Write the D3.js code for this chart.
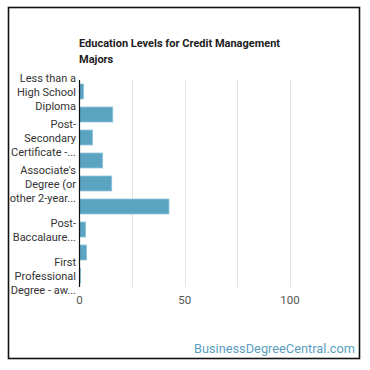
<!DOCTYPE html>
<html>
<head>
<meta charset="utf-8">
<script src="https://cdn.jsdelivr.net/npm/d3@7"></script>
<style>
  body { margin: 0; background: #fff; }
  text { font-family: Roboto, sans-serif; }
</style>
</head>
<body>
<div id="chart"></div>
<script>
// categories (full names) and the wrapped lines shown as tick labels
var categories = [
  "Less than a High School Diploma",
  "High School Diploma",
  "Post-Secondary Certificate - awarded for training completed after high school",
  "Some College Courses",
  "Associate's Degree (or other 2-year degree)",
  "Bachelor's Degree",
  "Post-Baccalaureate Certificate",
  "Master's Degree",
  "First Professional Degree - awarded for completion of a program"
];
var tickLines = [
  ["Less than a", "High School", "Diploma"],
  [],
  ["Post-", "Secondary", "Certificate -..."],
  [],
  ["Associate's", "Degree (or", "other 2-year..."],
  [],
  ["Post-", "Baccalaure..."],
  [],
  ["First", "Professional", "Degree - aw..."]
];
var values = [1.9, 15.8, 6.2, 11, 15.3, 42.5, 2.9, 3.3, 0.5];
var xTicks = [0, 50, 100];
var gridTicks = [25, 50, 75, 100];

var W = 370, H = 370;
var margin = {top: 80, left: 79.5, right: 80, bottom: 83};

var svg = d3.select("#chart").append("svg")
    .attr("width", W)
    .attr("height", H);

// frame
svg.append("rect")
    .attr("x", 8.5).attr("y", 7.5)
    .attr("width", 351).attr("height", 351)
    .attr("fill", "#fff")
    .attr("stroke", "#111")
    .attr("stroke-width", 1.6);

// title
var title = svg.append("text")
    .attr("x", 79)
    .attr("y", 47)
    .attr("font-size", "11px")
    .attr("font-weight", "bold")
    .attr("fill", "#222");
title.append("tspan").attr("x", 79).text("Education Levels for Credit Management");
title.append("tspan").attr("x", 79).attr("dy", 16).text("Majors");

var x = d3.scaleLinear()
    .domain([0, 100])
    .range([margin.left, 290]);

var y = d3.scaleBand()
    .domain(categories)
    .range([margin.top, 287])
    .paddingInner(0.35)
    .paddingOuter(0.175);

// gridlines
svg.append("g").selectAll("line")
    .data(gridTicks)
    .enter().append("line")
    .attr("x1", function(d) { return Math.round(x(d)) + 0.5; })
    .attr("x2", function(d) { return Math.round(x(d)) + 0.5; })
    .attr("y1", margin.top)
    .attr("y2", 287)
    .attr("stroke", "#e3e3e3")
    .attr("stroke-width", 1);

// bars
svg.append("g").selectAll("rect")
    .data(values)
    .enter().append("rect")
    .attr("x", x(0))
    .attr("y", function(d, i) { return y(categories[i]); })
    .attr("width", function(d) { return x(d) - x(0); })
    .attr("height", y.bandwidth())
    .attr("fill", "#5aa3c1")
    .attr("stroke", "#8cc3da")
    .attr("stroke-width", 0.8);

// y axis line
svg.append("line")
    .attr("x1", margin.left).attr("x2", margin.left)
    .attr("y1", margin.top).attr("y2", 287)
    .attr("stroke", "#111")
    .attr("stroke-width", 1.2);

// category labels
var lineH = 14;
var labels = svg.append("g").selectAll("text")
    .data(tickLines)
    .enter().append("text")
    .attr("text-anchor", "end")
    .attr("font-size", "11px")
    .attr("fill", "#333")
    .attr("transform", function(d, i) {
      var cy = y(categories[i]) + y.bandwidth() / 2;
      var top = cy - (d.length - 1) * lineH / 2 + 4;
      return "translate(76," + top + ")";
    });
labels.selectAll("tspan")
    .data(function(d) { return d; })
    .enter().append("tspan")
    .attr("x", 0)
    .attr("y", function(d, j) { return j * lineH; })
    .text(function(d) { return d; });

// x tick labels
svg.append("g").selectAll("text")
    .data(xTicks)
    .enter().append("text")
    .attr("x", function(d) { return x(d); })
    .attr("y", 304)
    .attr("text-anchor", "middle")
    .attr("font-size", "11.5px")
    .attr("fill", "#555")
    .text(function(d) { return d; });

// watermark
svg.append("text")
    .attr("x", 355)
    .attr("y", 353)
    .attr("text-anchor", "end")
    .attr("font-size", "12.8px")
    .attr("fill", "#5b9fc0")
    .text("BusinessDegreeCentral.com");
</script>
</body>
</html>
